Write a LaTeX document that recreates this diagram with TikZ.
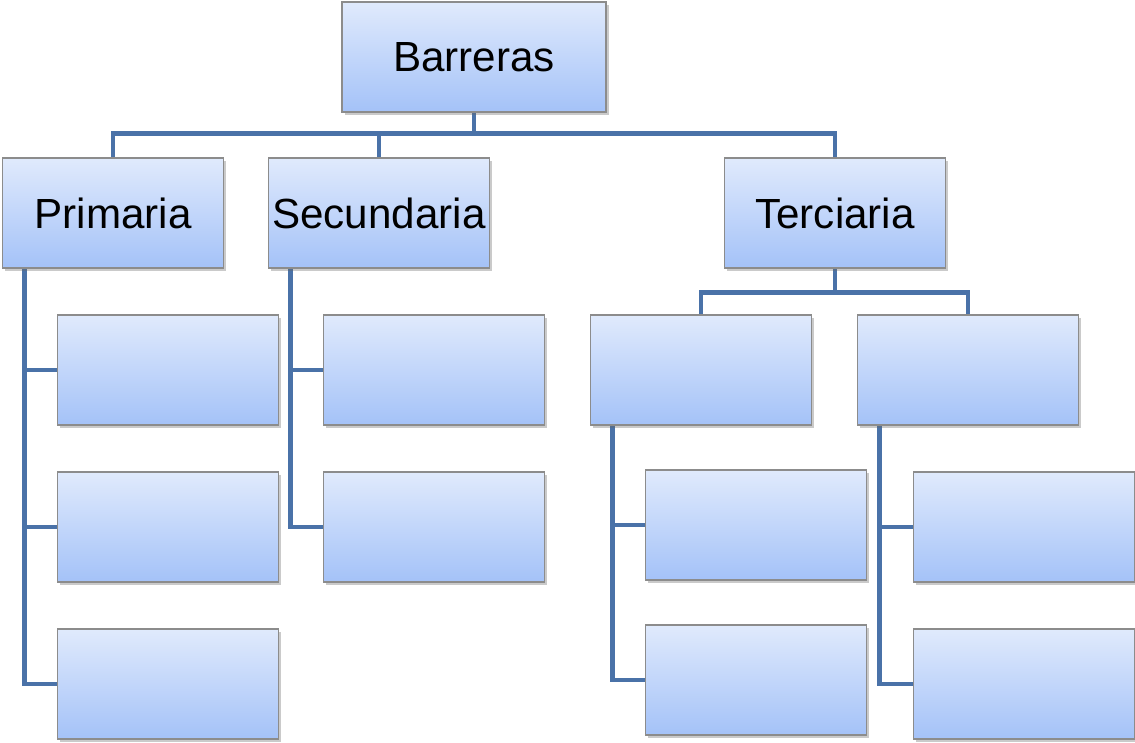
\documentclass[tikz,border=0pt]{standalone}
\usepackage{fontspec}
\setmainfont{Liberation Sans}
\usetikzlibrary{shadows,calc}
\pgfdeclarelayer{background}
\pgfsetlayers{background,main}
\definecolor{boxtop}{HTML}{E0EAFC}
\definecolor{boxbottom}{HTML}{A4C2F8}
\definecolor{boxline}{HTML}{8C8C8C}
\definecolor{linkblue}{HTML}{4A72A8}
\begin{document}
\begin{tikzpicture}[x=0.02cm,y=-0.02cm,
  box/.style={draw=boxline,line width=0.8pt,top color=boxtop,bottom color=boxbottom,
    minimum width=4.42cm,minimum height=2.2cm,inner sep=0pt,
    font=\fontsize{24}{28}\selectfont,
    drop shadow={shadow xshift=1.5pt,shadow yshift=-1.5pt,opacity=0.35,fill=black!60}},
  link/.style={draw=linkblue,line width=2.8pt}]
\useasboundingbox (0,0) rectangle (1135,743);
% top levels
\node[box,minimum width=5.28cm] (bar) at (474,57) {Barreras};
\node[box] (pri) at (113,213) {Primaria};
\node[box] (sec) at (379,213) {Secundaria};
\node[box] (ter) at (835,213) {Terciaria};
% empty boxes
\foreach \n/\y in {1/370,2/527,3/684} \node[box] (pri\n) at (168,\y) {};
\foreach \n/\y in {1/370,2/527} \node[box] (sec\n) at (434,\y) {};
\node[box] (ter1) at (701,370) {};
\node[box] (ter2) at (968,370) {};
\foreach \n/\y in {1/525,2/680} \node[box] (ter1\n) at (756,\y) {};
\foreach \n/\y in {1/527,2/684} \node[box] (ter2\n) at (1024,\y) {};

\begin{pgfonlayer}{background}
\draw[link] (bar.south) -- ++(0,21) coordinate (fork)
  (fork) -| (pri.north) (fork) -| (sec.north) (fork) -| (ter.north);
\draw[link] (ter.south) -- ++(0,24) coordinate (tfork)
  (tfork) -| (ter1.north) (tfork) -| (ter2.north);
% side spines
\coordinate (pspine) at ($(pri.south west)+(23,0)$);
\coordinate (sspine) at ($(sec.south west)+(23,0)$);
\coordinate (t1spine) at ($(ter1.south west)+(23,0)$);
\coordinate (t2spine) at ($(ter2.south west)+(23,0)$);
\foreach \n in {1,2,3} \draw[link] (pspine) |- (pri\n.west);
\foreach \n in {1,2} \draw[link] (sspine) |- (sec\n.west);
\foreach \n in {1,2} \draw[link] (t1spine) |- (ter1\n.west);
\foreach \n in {1,2} \draw[link] (t2spine) |- (ter2\n.west);
\end{pgfonlayer}
\end{tikzpicture}
\end{document}
